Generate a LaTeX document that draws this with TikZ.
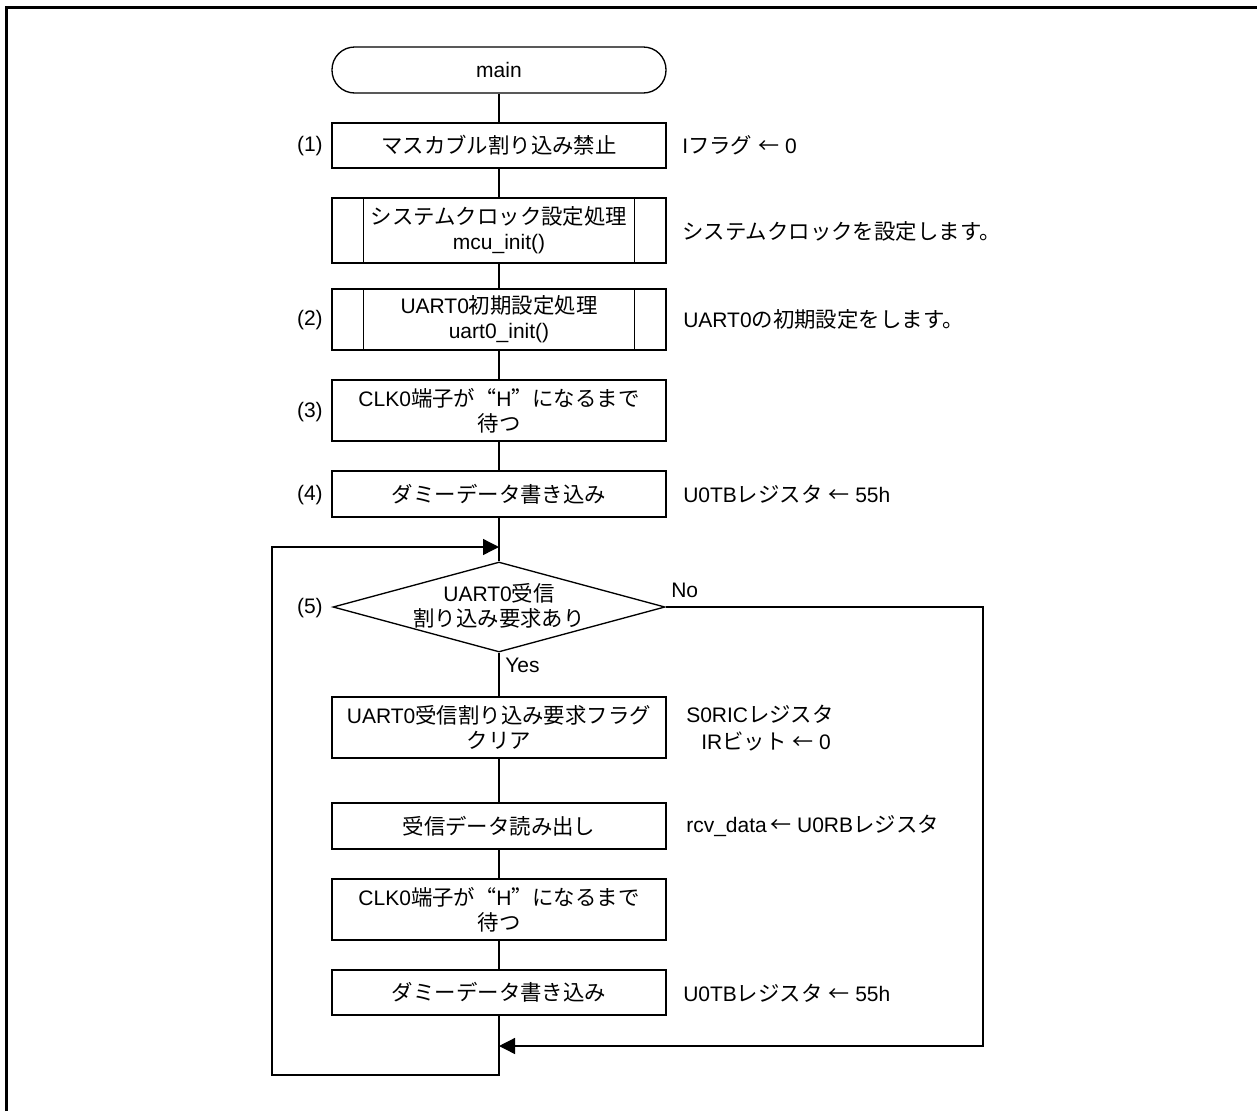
\documentclass[tikz,border=0pt]{standalone}
\usepackage{fontspec}
\setmainfont{Liberation Sans}
\newfontfamily\jpfont{Noto Sans CJK JP}[Scale=1.02]
\newfontfamily\jpfw{Noto Sans CJK JP}[CharacterWidth=Full]
\newcommand\J[1]{{\jpfont #1}}
\newcommand\LQ{{\jpfw “}}
\newcommand\RQ{{\jpfw ”}}
\newcommand\LA{{\jpfw ←}}
\usetikzlibrary{shapes.geometric,arrows.meta}
\begin{document}
\begin{tikzpicture}[x=0.75pt,y=-0.75pt,
  every node/.style={font=\fontsize{15.75}{18.75}\selectfont, inner sep=0pt},
  box/.style={draw, line width=1pt, minimum width=250.5pt, align=center},
  term/.style={box, rounded corners=17pt, minimum height=34.5pt},
  decision/.style={diamond, draw, line width=1pt, minimum width=249pt, minimum height=67.5pt},
  ann/.style={anchor=west, align=left},
  num/.style={anchor=east},
  conn/.style={line width=1pt},
  arr/.style={conn, -{Triangle[length=12pt,width=12pt]}}
]
\useasboundingbox (0,0) rectangle (1257,1111);
\draw[line width=2.25pt] (6.5,1111) -- (6.5,7.5) -- (1257,7.5);

% main column
\node[term] (m) at (499,70) {main};
\node[box, minimum height=33.75pt] (b1) at (499,145.5) {\J{マスカブル割り込み禁止}};
\node[box, minimum height=48.75pt] (b2) at (499,230.5) {\J{システムクロック設定処理}\\mcu\_init()};
\node[box, minimum height=45.75pt] (b3) at (499,319.5) {UART0\J{初期設定処理}\\uart0\_init()};
\node[box, minimum height=45.75pt] (b4) at (499,410.5) {CLK0\J{端子が}\LQ H\RQ\J{になるまで}\\\J{待つ}};
\node[box, minimum height=34.5pt] (b5) at (499,494) {\J{ダミーデータ書き込み}};
\node[decision] (d) at (499,607) {};
\node[align=center] (dt) at (499,606) {UART0\J{受信}\\\J{割り込み要求あり}};
\node[box, minimum height=45.75pt] (b6) at (499,727.5) {UART0\J{受信割り込み要求フラグ}\\\J{クリア}};
\node[box, minimum height=34.5pt] (b7) at (499,826) {\J{受信データ読み出し}};
\node[box, minimum height=45.75pt] (b8) at (499,909.5) {CLK0\J{端子が}\LQ H\RQ\J{になるまで}\\\J{待つ}};
\node[box, minimum height=33.75pt] (b9) at (499,992.5) {\J{ダミーデータ書き込み}};

% subroutine inner bars
\foreach \n in {b2,b3}{
  \draw[conn] ([xshift=24pt]\n.north west) -- ([xshift=24pt]\n.south west);
  \draw[conn] ([xshift=-24pt]\n.north east) -- ([xshift=-24pt]\n.south east);
}

% step numbers
\node[num] (n1) at (323,146) {(1)};
\node[num] (n2) at (323,320) {(2)};
\node[num] (n3) at (323,412) {(3)};
\node[num] (n4) at (323,495) {(4)};
\node[num] (n5) at (323,608) {(5)};

% annotations
\node[ann] (a1) at (682,145) {I\J{フラグ} \LA{} 0};
\node[ann] (a2) at (682,231) {\J{システムクロックを設定します。}};
\node[ann] (a3) at (683,319) {UART0\J{の初期設定をします。}};
\node[ann] (a4) at (683,494) {U0TB\J{レジスタ} \LA{} 55h};
\node[ann] (a5) at (686,714) {S0RIC\J{レジスタ}};
\node[ann] (a6) at (701,741) {IR\J{ビット} \LA{} 0};
\node[ann] (a7) at (686,826) {rcv\_data\,\LA{} U0RB\J{レジスタ}};
\node[ann] (a8) at (683,993) {U0TB\J{レジスタ} \LA{} 55h};

% connectors
\draw[conn] (m) -- (b1);
\draw[conn] (b1) -- (b2);
\draw[conn] (b2) -- (b3);
\draw[conn] (b3) -- (b4);
\draw[conn] (b4) -- (b5);
\draw[conn] (b5) -- (d.north);
\draw[conn] (d.south) -- (b6);
\draw[conn] (b6) -- (b7);
\draw[conn] (b7) -- (b8);
\draw[conn] (b8) -- (b9);

\coordinate (lb) at (499,1075);
\coordinate (ll) at (272,1075);
\coordinate (lt) at (272,547);
\coordinate (lin) at (499,547);
\draw[arr] (b9.south) -- (lb) -- (ll) -- (lt) -- (lin);

\coordinate (nr) at (983,607);
\coordinate (nb) at (983,1046);
\coordinate (nin) at (499,1046);
\draw[arr] (d.east) -- (nr) -- (nb) -- (nin);

\node[anchor=west] (no) at (671,590) {No};
\node[anchor=west] (yes) at (505,665) {Yes};
\end{tikzpicture}
\end{document}
